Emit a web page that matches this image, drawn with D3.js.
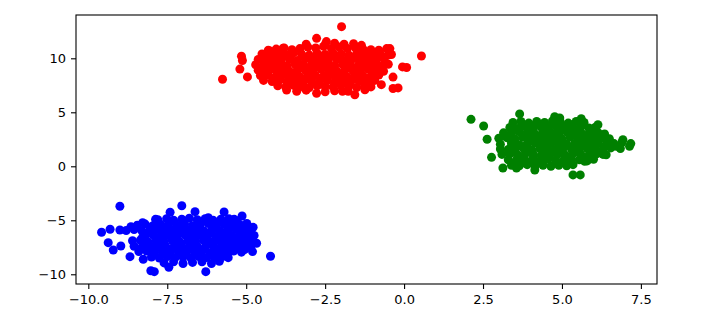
<!DOCTYPE html>
<html>
<head>
<meta charset="utf-8">
<script src="https://cdn.jsdelivr.net/npm/d3@7"></script>
<style>
  body { margin: 0; background: #fff; }
  .tick text { font-family: "DejaVu Sans", sans-serif; font-size: 13px; fill: #000; }
</style>
</head>
<body>
<div id="dataviz"></div>
<script>
// tick values
var xTicks = [-10, -7.5, -5, -2.5, 0, 2.5, 5, 7.5];
var yTicks = [-10, -5, 0, 5, 10];

// red blob, top middle
var redPoints = [
  [-5.75,8.06],[-5.15,10.2],[-5.12,9.8],[-5.2,9.0],[-4.96,8.28],[-1.98,12.93],[0.55,10.21],[-2.77,11.85],
  [-2.46,11.55],[-4.25,10.68],[-3.83,10.93],[-0.45,10.9],[-0.4,10.35],[-0.05,9.2],[0.08,9.15],[-0.35,8.26],
  [-0.35,7.2],[-0.19,7.26],[-0.72,7.56],[-1.24,7.09],[-1.77,6.94],[-1.56,6.63],[-2.77,6.76],[-3.72,7.07],
  [-3.1,11.3],[-2.2,11.4],[-1.9,11.3],[-1.6,11.35],[-2.5,11.25],[-1.35,11.2],
  [-4.3,10.75],[-4.05,10.85],[-3.8,10.95],[-3.55,10.8],[-3.3,10.9],[-3.05,11.05],[-2.8,10.95],[-2.55,11.1],
  [-2.3,10.9],[-2.05,11.05],[-1.8,10.9],[-1.55,11.0],[-1.3,10.85],[-1.05,10.8],[-0.8,10.75],[-0.55,10.9],
  [-4.5,10.4],[-4.25,10.3],[-4.0,10.45],[-3.75,10.35],[-3.5,10.5],[-3.25,10.4],[-3.0,10.3],[-2.75,10.45],
  [-2.5,10.35],[-2.25,10.5],[-2.0,10.4],[-1.75,10.3],[-1.5,10.45],[-1.25,10.35],[-1.0,10.5],[-0.75,10.4],[-0.5,10.3],
  [-4.1,10.15],[-3.6,10.2],[-3.1,10.1],[-2.6,10.2],[-2.1,10.15],[-1.6,10.1],[-1.1,10.2],[-0.7,10.15],
  [-4.62,9.9],[-4.38,9.95],[-4.13,9.85],[-3.88,10.0],[-3.63,9.9],[-3.38,9.8],[-3.13,9.95],[-2.88,9.9],
  [-2.63,9.85],[-2.38,10.0],[-2.13,9.9],[-1.88,9.8],[-1.63,9.95],[-1.38,9.9],[-1.13,9.85],[-0.88,10.0],[-0.63,9.9],
  [-4.4,9.65],[-3.9,9.7],[-3.4,9.6],[-2.9,9.7],[-2.4,9.65],[-1.9,9.6],[-1.4,9.7],[-0.9,9.65],
  [-4.7,9.4],[-4.45,9.35],[-4.2,9.5],[-3.95,9.4],[-3.7,9.3],[-3.45,9.45],[-3.2,9.4],[-2.95,9.35],[-2.7,9.5],
  [-2.45,9.4],[-2.2,9.3],[-1.95,9.45],[-1.7,9.4],[-1.45,9.35],[-1.2,9.5],[-0.95,9.4],[-0.7,9.3],[-0.5,9.45],
  [-4.3,9.15],[-3.8,9.2],[-3.3,9.1],[-2.8,9.2],[-2.3,9.15],[-1.8,9.1],[-1.3,9.2],[-0.8,9.15],
  [-4.62,8.9],[-4.38,8.85],[-4.13,9.0],[-3.88,8.9],[-3.63,8.8],[-3.38,8.95],[-3.13,8.9],[-2.88,8.85],
  [-2.63,9.0],[-2.38,8.9],[-2.13,8.8],[-1.88,8.95],[-1.63,8.9],[-1.38,8.85],[-1.13,9.0],[-0.88,8.9],[-0.65,8.8],
  [-4.4,8.65],[-3.9,8.7],[-3.4,8.6],[-2.9,8.7],[-2.4,8.65],[-1.9,8.6],[-1.4,8.7],[-0.95,8.65],
  [-4.55,8.4],[-4.3,8.45],[-4.05,8.35],[-3.8,8.5],[-3.55,8.4],[-3.3,8.3],[-3.05,8.45],[-2.8,8.4],
  [-2.55,8.35],[-2.3,8.5],[-2.05,8.4],[-1.8,8.3],[-1.55,8.45],[-1.3,8.4],[-1.05,8.35],[-0.8,8.45],
  [-4.1,8.15],[-3.6,8.2],[-3.1,8.1],[-2.6,8.2],[-2.1,8.15],[-1.6,8.1],[-1.1,8.2],
  [-4.45,7.95],[-4.18,7.85],[-3.93,8.0],[-3.68,7.9],[-3.43,7.85],[-3.18,8.0],[-2.93,7.9],[-2.68,7.8],
  [-2.43,7.95],[-2.18,7.9],[-1.93,7.85],[-1.68,8.0],[-1.43,7.9],[-1.18,7.85],[-0.93,7.95],
  [-3.7,7.65],[-3.2,7.7],[-2.7,7.6],[-2.2,7.7],[-1.7,7.65],[-1.2,7.6],
  [-4.0,7.45],[-3.75,7.35],[-3.5,7.5],[-3.25,7.4],[-3.0,7.3],[-2.75,7.45],[-2.5,7.4],[-2.25,7.35],
  [-2.0,7.5],[-1.75,7.4],[-1.5,7.3],[-1.25,7.45],[-1.05,7.35],
  [-3.4,6.95],[-3.1,7.05],[-2.5,6.9],[-2.2,7.0],[-1.95,6.95]
];

// green blob, right
var greenPoints = [
  [2.12,4.35],[2.52,3.73],[2.77,0.83],[2.63,2.5],[5.35,-0.8],[5.58,-0.8],[7.18,2.1],[3.66,4.85],
  [4.77,4.59],[5.61,4.4],[4.93,4.47],[6.14,3.85],[6.93,2.46],[7.14,1.85],[6.72,1.85],[6.4,1.07],
  [5.72,0.46],[3.13,-0.16],[3.56,-0.16],[4.14,-0.34],
  [3.45,4.05],[3.7,4.15],[3.95,4.0],[4.2,4.15],[4.45,4.05],[4.7,4.2],[4.95,4.1],[5.2,4.0],[5.45,4.15],[5.7,4.05],
  [3.8,3.85],[4.3,3.9],[4.8,3.8],[5.3,3.85],
  [3.35,3.6],[3.6,3.5],[3.85,3.65],[4.1,3.55],[4.35,3.6],[4.6,3.7],[4.85,3.55],[5.1,3.6],[5.35,3.5],
  [5.6,3.65],[5.85,3.55],[6.05,3.6],
  [3.5,3.35],[4.0,3.4],[4.5,3.3],[5.0,3.4],[5.5,3.35],[6.0,3.3],
  [3.15,3.1],[3.4,3.05],[3.65,3.2],[3.9,3.1],[4.15,3.0],[4.4,3.15],[4.65,3.1],[4.9,3.05],[5.15,3.2],
  [5.4,3.1],[5.65,3.0],[5.9,3.15],[6.15,3.1],[6.35,3.0],
  [3.3,2.85],[3.8,2.9],[4.3,2.8],[4.8,2.9],[5.3,2.85],[5.8,2.8],[6.3,2.9],
  [3.0,2.6],[3.25,2.65],[3.5,2.55],[3.75,2.7],[4.0,2.6],[4.25,2.5],[4.5,2.65],[4.75,2.6],[5.0,2.55],
  [5.25,2.7],[5.5,2.6],[5.75,2.5],[6.0,2.65],[6.25,2.6],[6.5,2.55],
  [3.5,2.35],[4.0,2.4],[4.5,2.3],[5.0,2.4],[5.5,2.35],[6.0,2.3],[6.5,2.4],
  [3.05,2.05],[3.4,2.15],[3.65,2.0],[3.9,2.1],[4.15,2.15],[4.4,2.0],[4.65,2.1],[4.9,2.15],[5.15,2.05],
  [5.4,2.1],[5.65,2.0],[5.9,2.15],[6.15,2.1],[6.4,2.0],[6.65,2.1],[6.9,2.2],
  [3.4,1.85],[3.9,1.9],[4.4,1.8],[4.9,1.9],[5.4,1.85],[5.9,1.8],[6.4,1.9],
  [3.05,1.6],[3.3,1.55],[3.55,1.7],[3.8,1.6],[4.05,1.5],[4.3,1.65],[4.55,1.6],[4.8,1.55],[5.05,1.7],
  [5.3,1.6],[5.55,1.5],[5.8,1.65],[6.05,1.6],[6.3,1.55],[6.55,1.7],[6.85,1.65],
  [3.5,1.35],[4.0,1.4],[4.5,1.3],[5.0,1.4],[5.5,1.35],[6.0,1.3],
  [3.1,1.1],[3.35,1.15],[3.6,1.05],[3.85,1.2],[4.1,1.1],[4.35,1.0],[4.6,1.15],[4.85,1.1],[5.1,1.05],
  [5.35,1.2],[5.6,1.1],[5.85,1.0],[6.1,1.15],[6.3,1.1],
  [3.6,0.85],[4.1,0.9],[4.6,0.8],[5.1,0.9],[5.6,0.85],
  [3.3,0.6],[3.55,0.55],[3.8,0.7],[4.05,0.6],[4.3,0.5],[4.55,0.65],[4.8,0.6],[5.05,0.55],[5.3,0.7],
  [5.55,0.6],[5.8,0.5],[6.0,0.65],
  [3.8,0.35],[4.3,0.4],[4.8,0.3],[5.2,0.35],
  [3.4,0.1],[3.65,0.05],[3.9,0.15],[4.15,0.05],[4.4,0.1],[4.65,0.0],[4.9,0.1],[5.15,0.05],[5.35,0.15]
];

// blue blob, bottom left
var bluePoints = [
  [-9.0,-3.7],[-7.04,-3.65],[-7.41,-4.26],[-6.62,-4.2],[-5.7,-4.23],[-5.13,-4.6],
  [-9.58,-6.11],[-9.31,-5.83],[-9.0,-5.9],[-9.37,-7.07],[-9.21,-7.75],[-8.97,-7.38],
  [-8.68,-8.37],[-8.26,-8.61],[-8.02,-9.67],[-7.91,-9.76],[-7.45,-9.35],[-6.28,-9.76],
  [-5.57,-8.46],[-4.8,-7.9],[-4.67,-7.13],[-4.78,-5.65],[-4.23,-8.33],[-8.65,-5.59],
  [-8.28,-5.22],[-7.87,-4.91],[-5.38,-4.91],[-6.2,-4.76],
  [-7.8,-4.95],[-7.52,-4.85],[-7.3,-5.0],[-7.04,-4.9],[-6.8,-4.8],[-6.55,-4.95],[-6.3,-4.85],
  [-6.05,-5.0],[-5.8,-4.9],[-5.55,-4.85],[-5.3,-5.05],
  [-8.45,-5.45],[-8.2,-5.35],[-7.95,-5.5],[-7.7,-5.4],[-7.45,-5.3],[-7.2,-5.45],[-6.95,-5.35],
  [-6.7,-5.5],[-6.45,-5.4],[-6.2,-5.3],[-5.95,-5.45],[-5.7,-5.35],[-5.45,-5.5],[-5.2,-5.4],[-4.98,-5.3],
  [-8.0,-5.65],[-7.5,-5.7],[-7.0,-5.6],[-6.5,-5.65],[-6.0,-5.7],[-5.5,-5.6],[-5.05,-5.7],
  [-8.8,-5.95],[-8.55,-5.85],[-8.3,-6.0],[-8.05,-5.9],[-7.8,-5.85],[-7.57,-6.0],[-7.32,-5.9],[-7.08,-5.85],
  [-6.83,-5.95],[-6.58,-5.9],[-6.33,-6.0],[-6.08,-5.85],[-5.83,-5.95],[-5.58,-5.9],[-5.33,-5.85],
  [-5.08,-6.0],[-4.85,-5.9],
  [-8.1,-6.15],[-7.6,-6.2],[-7.1,-6.1],[-6.6,-6.2],[-6.1,-6.15],[-5.6,-6.1],[-5.1,-6.2],
  [-8.2,-6.5],[-7.95,-6.35],[-7.7,-6.45],[-7.45,-6.4],[-7.2,-6.5],[-6.95,-6.35],[-6.7,-6.45],
  [-6.45,-6.4],[-6.2,-6.35],[-5.95,-6.5],[-5.7,-6.4],[-5.45,-6.45],[-5.2,-6.35],[-4.95,-6.45],[-4.75,-6.4],
  [-8.3,-6.65],[-7.8,-6.7],[-7.3,-6.6],[-6.8,-6.7],[-6.3,-6.65],[-5.8,-6.6],[-5.3,-6.7],[-4.9,-6.65],
  [-8.6,-6.9],[-8.35,-6.85],[-8.1,-7.0],[-7.85,-6.9],[-7.6,-6.95],[-7.35,-6.85],[-7.1,-7.0],[-6.85,-6.9],
  [-6.6,-6.95],[-6.35,-6.85],[-6.1,-7.0],[-5.85,-6.9],[-5.6,-6.85],[-5.35,-6.95],[-5.1,-6.9],[-4.85,-7.0],
  [-8.2,-7.15],[-7.7,-7.2],[-7.2,-7.1],[-6.7,-7.2],[-6.2,-7.15],[-5.7,-7.1],[-5.2,-7.2],
  [-8.55,-7.4],[-8.3,-7.5],[-8.05,-7.35],[-7.8,-7.45],[-7.55,-7.4],[-7.3,-7.5],[-7.05,-7.35],[-6.8,-7.45],
  [-6.55,-7.4],[-6.3,-7.5],[-6.05,-7.35],[-5.8,-7.45],[-5.55,-7.4],[-5.3,-7.5],[-5.05,-7.35],[-4.85,-7.45],
  [-8.0,-7.65],[-7.5,-7.7],[-7.0,-7.6],[-6.5,-7.7],[-6.0,-7.65],[-5.5,-7.6],[-5.05,-7.7],
  [-8.4,-7.9],[-8.15,-7.85],[-7.9,-8.0],[-7.65,-7.9],[-7.4,-7.95],[-7.15,-7.85],[-6.9,-8.0],[-6.65,-7.9],
  [-6.4,-7.85],[-6.15,-8.0],[-5.9,-7.9],[-5.65,-7.95],[-5.4,-7.85],[-5.15,-7.95],
  [-7.6,-8.15],[-7.1,-8.2],[-6.6,-8.1],[-6.1,-8.2],[-5.6,-8.15],
  [-8.0,-8.4],[-7.75,-8.5],[-7.5,-8.35],[-7.25,-8.45],[-7.0,-8.4],[-6.75,-8.5],[-6.5,-8.35],
  [-6.25,-8.45],[-6.0,-8.4],[-5.75,-8.35],
  [-7.6,-8.95],[-7.3,-8.85],[-7.0,-9.0],[-6.7,-8.9],[-6.4,-8.85],[-6.1,-9.0],[-5.85,-8.8]
];

var clusters = [
  { color: "#ff0000", points: redPoints },
  { color: "#008000", points: greenPoints },
  { color: "#0000ff", points: bluePoints }
];

var margin = {top: 15, right: 63, bottom: 34, left: 76};
var width = 720 - margin.left - margin.right;
var height = 318 - margin.top - margin.bottom;

var svg = d3.select("#dataviz")
  .append("svg")
    .attr("width", 720)
    .attr("height", 318)
  .append("g")
    .attr("transform", "translate(" + margin.left + "," + margin.top + ")");

var x = d3.scaleLinear()
  .domain([-10.39, 8.01])
  .range([0, width]);

var y = d3.scaleLinear()
  .domain([-10.9, 14.01])
  .range([height, 0]);

clusters.forEach(function(c) {
  svg.append("g")
    .selectAll("circle")
    .data(c.points)
    .enter()
    .append("circle")
      .attr("cx", function(d) { return x(d[0]); })
      .attr("cy", function(d) { return y(d[1]); })
      .attr("r", 4.5)
      .attr("fill", c.color);
});

var xAxis = svg.append("g")
  .attr("transform", "translate(0," + height + ")")
  .call(d3.axisBottom(x).tickValues(xTicks).tickFormat(d3.format(".1f")).tickSize(5).tickSizeOuter(0).tickPadding(6));

var yAxis = svg.append("g")
  .call(d3.axisLeft(y).tickValues(yTicks).tickFormat(d3.format("d")).tickSize(5).tickSizeOuter(0).tickPadding(5));

[xAxis, yAxis].forEach(function(a) {
  a.select(".domain").remove();
  a.selectAll(".tick line").attr("stroke", "#000").attr("stroke-width", 1.1);
});

// frame
svg.append("rect")
  .attr("x", 0)
  .attr("y", 0)
  .attr("width", width)
  .attr("height", height)
  .attr("fill", "none")
  .attr("stroke", "#000")
  .attr("stroke-width", 1.1);
</script>
</body>
</html>
